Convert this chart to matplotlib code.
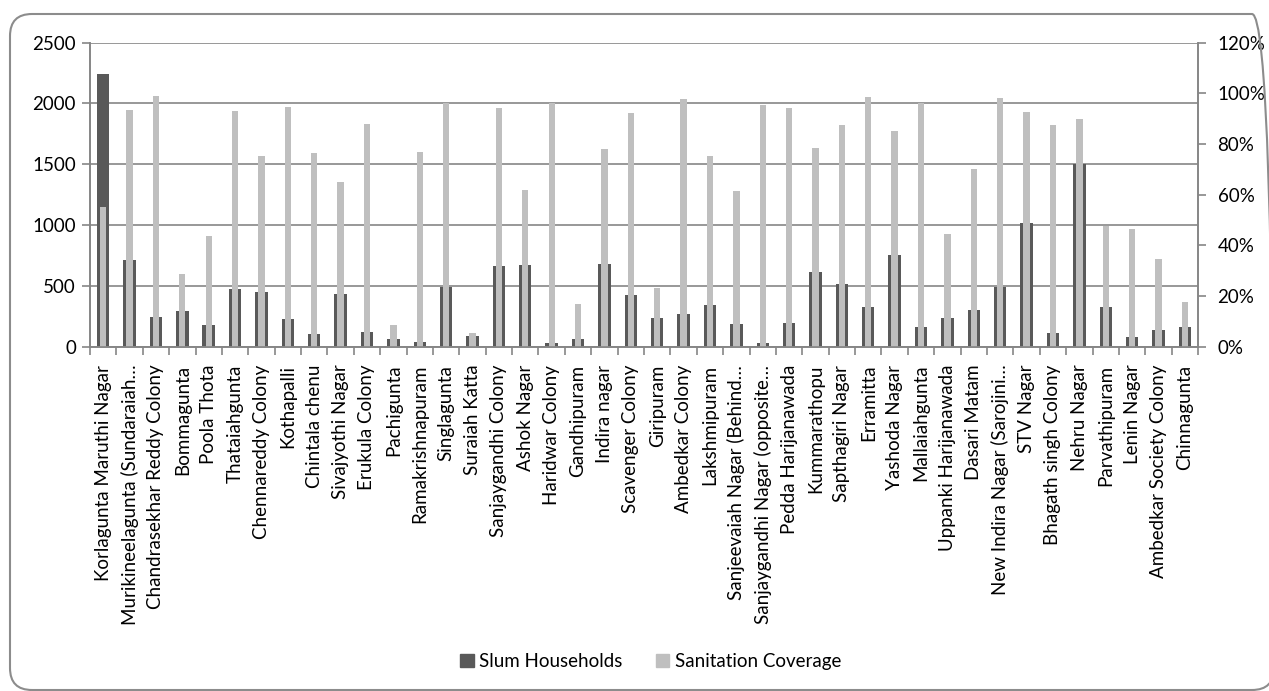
import numpy as np
import matplotlib.pyplot as plt
from matplotlib.patches import FancyBboxPatch, Patch
from matplotlib.transforms import IdentityTransform
from matplotlib.ticker import FixedLocator, PercentFormatter

plt.rcParams['font.family'] = ['Lato', 'DejaVu Sans']

slums = [
    'Korlagunta Maruthi Nagar', 'Murikineelagunta (Sundaraiah\u2026',
    'Chandrasekhar Reddy Colony', 'Bommagunta', 'Poola Thota', 'Thataiahgunta',
    'Chennareddy Colony', 'Kothapalli', 'Chintala chenu', 'Sivajyothi Nagar',
    'Erukula Colony', 'Pachigunta', 'Ramakrishnapuram', 'Singlagunta',
    'Suraiah Katta', 'Sanjaygandhi Colony', 'Ashok Nagar', 'Haridwar Colony',
    'Gandhipuram', 'Indira nagar', 'Scavenger Colony', 'Giripuram',
    'Ambedkar Colony', 'Lakshmipuram', 'Sanjeevaiah Nagar (Behind\u2026',
    'Sanjaygandhi Nagar (opposite\u2026', 'Pedda Harijanawada', 'Kummarathopu',
    'Sapthagiri Nagar', 'Erramitta', 'Yashoda Nagar', 'Mallaiahgunta',
    'Uppanki Harijanawada', 'Dasari Matam', 'New Indira Nagar (Sarojini\u2026',
    'STV Nagar', 'Bhagath singh Colony', 'Nehru Nagar', 'Parvathipuram',
    'Lenin Nagar', 'Ambedkar Society Colony', 'Chinnagunta',
]

households = [
    2240, 712, 247, 293, 176, 472, 450, 225, 102, 431,
    118, 61, 41, 493, 88, 666, 674, 33, 63, 677,
    423, 233, 271, 345, 184, 33, 197, 617, 513, 326,
    757, 164, 233, 304, 488, 1020, 113, 1505, 326, 77,
    135, 160,
]

# sanitation coverage, fraction of households
coverage = [
    0.55, 0.933, 0.988, 0.288, 0.437, 0.932, 0.752, 0.946, 0.763, 0.649,
    0.879, 0.086, 0.767, 0.961, 0.055, 0.941, 0.62, 0.961, 0.17, 0.779,
    0.921, 0.23, 0.979, 0.753, 0.615, 0.954, 0.944, 0.783, 0.874, 0.987,
    0.85, 0.962, 0.444, 0.703, 0.983, 0.925, 0.874, 0.898, 0.475, 0.466,
    0.347, 0.175,
]

dark = '#595959'
light = '#bfbfbf'
axis_grey = '#868686'
fs = 13.5

fig = plt.figure(figsize=(12.69, 6.91), dpi=100)
ax = fig.add_axes([0.0709, 0.4983, 0.8732, 0.4399])
ax2 = ax.twinx()

x = np.arange(len(slums))
ax.bar(x, households, width=0.47, color=dark, zorder=2)
ax2.bar(x, coverage, width=0.24, color=light, zorder=2)

ax.set_xlim(-0.5, len(slums) - 0.5)
ax.set_ylim(0, 2500)
ax.set_yticks(range(0, 2501, 500))
ax2.set_ylim(0, 1.2)
ax2.set_yticks(np.arange(0, 1.21, 0.2))
ax2.yaxis.set_major_formatter(PercentFormatter(1.0, decimals=0))

ax.set_axisbelow(True)
ax.yaxis.grid(True, color=axis_grey, linewidth=1.2)

ax.set_xticks(x)
ax.set_xticklabels(slums, rotation=90, fontsize=fs)
ax.xaxis.set_minor_locator(FixedLocator(np.arange(-0.5, len(slums), 1)))
ax.tick_params(axis='x', which='major', length=0, pad=13)
ax.tick_params(axis='x', which='minor', length=6, color=axis_grey, width=1.2)
ax.tick_params(axis='y', length=6, color=axis_grey, width=1.2, labelsize=fs, pad=4)
ax2.tick_params(axis='y', length=6, color=axis_grey, width=1.2, labelsize=fs, pad=8)

for a in (ax, ax2):
    a.spines['top'].set_visible(False)
    for s in ('left', 'right', 'bottom'):
        a.spines[s].set_color(axis_grey)
        a.spines[s].set_linewidth(1.2)

handles = [Patch(color=dark, label='Slum Households'),
           Patch(color=light, label='Sanitation Coverage')]
fig.legend(handles=handles, loc='center', bbox_to_anchor=(0.513, 0.043),
           ncol=2, frameon=False, fontsize=fs, handlelength=0.7,
           handleheight=0.7, handletextpad=0.3, columnspacing=1.8)

# rounded chart border, running off the right edge
frame = FancyBboxPatch((10, 1), 1264, 676,
                       boxstyle='round,pad=0,rounding_size=22',
                       transform=IdentityTransform(), fill=False,
                       edgecolor='#8c8c8c', linewidth=1.5)
fig.add_artist(frame)

fig.savefig('out.png', dpi=100)
